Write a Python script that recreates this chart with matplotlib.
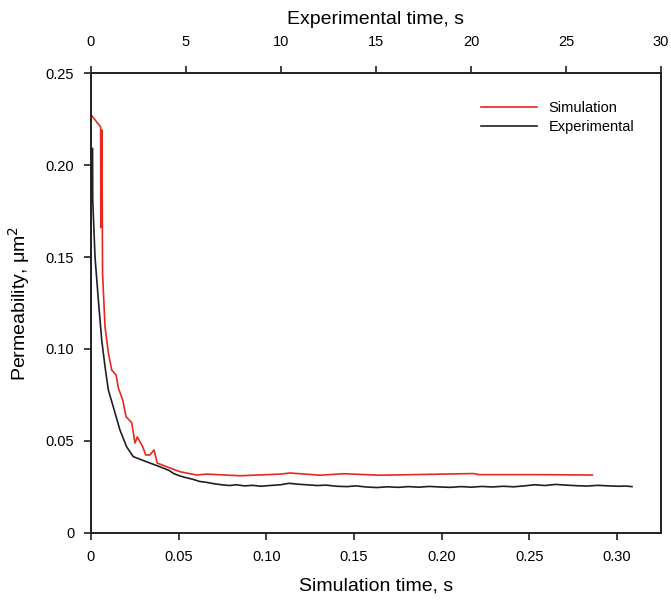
import matplotlib.pyplot as plt

plt.rcParams['font.family'] = ['Liberation Sans', 'DejaVu Sans']

# Simulation curve (red)
sim_t = [0.0006, 0.0055, 0.0056, 0.0062, 0.0066, 0.0080, 0.0099, 0.0118, 0.0143,
         0.0156, 0.0181, 0.0200, 0.0232, 0.0251, 0.0264, 0.0295, 0.0312, 0.0336,
         0.0359, 0.0378, 0.0432, 0.0507, 0.0603, 0.066, 0.085, 0.108, 0.1135,
         0.1306, 0.1439, 0.1648, 0.1893, 0.218, 0.2215, 0.256, 0.2859]
sim_k = [0.2266, 0.2207, 0.166, 0.219, 0.141, 0.112, 0.098, 0.0886, 0.0859,
         0.0788, 0.0723, 0.0632, 0.0600, 0.0489, 0.0522, 0.0469, 0.0424, 0.0424,
         0.0451, 0.0380, 0.0360, 0.0333, 0.0315, 0.0320, 0.0311, 0.0320, 0.0326,
         0.0314, 0.0322, 0.0314, 0.0318, 0.0323, 0.0317, 0.0317, 0.0315]

# Experimental curve (black)
exp_t = [0.0009, 0.0010, 0.0023, 0.0042, 0.0061, 0.0080, 0.0099, 0.0127, 0.0165,
         0.0203, 0.0241, 0.0317, 0.0393, 0.0445, 0.0470, 0.0507, 0.0545, 0.0580,
         0.0620, 0.0660, 0.0700, 0.0745, 0.0790, 0.0830, 0.0875, 0.0920, 0.0970,
         0.1020, 0.1080, 0.1130, 0.1180, 0.1230, 0.1290, 0.1340, 0.1400, 0.1460,
         0.1510, 0.1570, 0.1630, 0.1690, 0.1750, 0.1810, 0.1870, 0.1930, 0.1990,
         0.2050, 0.2110, 0.2170, 0.2230, 0.2290, 0.2350, 0.2410, 0.2470, 0.2530,
         0.2590, 0.2650, 0.2710, 0.2770, 0.2830, 0.2890, 0.2950, 0.3010, 0.3050,
         0.3085]
exp_k = [0.209, 0.181, 0.150, 0.1266, 0.105, 0.0904, 0.0777, 0.0686, 0.0560,
         0.0469, 0.0415, 0.0387, 0.0360, 0.0340, 0.0324, 0.0310, 0.0300, 0.0292,
         0.0280, 0.0275, 0.0268, 0.0262, 0.0258, 0.0262, 0.0256, 0.0259, 0.0254,
         0.0258, 0.0262, 0.0270, 0.0265, 0.0262, 0.0258, 0.0260, 0.0254, 0.0252,
         0.0256, 0.0250, 0.0247, 0.0251, 0.0248, 0.0252, 0.0249, 0.0253, 0.0250,
         0.0248, 0.0252, 0.0249, 0.0253, 0.0250, 0.0254, 0.0251, 0.0256, 0.0262,
         0.0258, 0.0264, 0.0260, 0.0257, 0.0255, 0.0259, 0.0256, 0.0254, 0.0255,
         0.0252]

sim_ticks = [0, 0.05, 0.10, 0.15, 0.20, 0.25, 0.30]
sim_ticklabels = ['0', '0.05', '0.10', '0.15', '0.20', '0.25', '0.30']
exp_ticks = [0, 5, 10, 15, 20, 25, 30]
k_ticks = [0, 0.05, 0.10, 0.15, 0.20, 0.25]
k_ticklabels = ['0', '0.05', '0.10', '0.15', '0.20', '0.25']

spine_col = '#231f20'

fig = plt.figure(figsize=(6.71, 6.0), dpi=100)
ax = fig.add_axes([0.1356, 0.1117, 0.8494, 0.7666])

ax.plot(sim_t, sim_k, color='#e8281e', lw=1.2, label='Simulation')
ax.plot(exp_t, exp_k, color='#231f20', lw=1.2, label='Experimental')

ax.set_xlim(0, 0.325)
ax.set_ylim(0, 0.25)
ax.set_xticks(sim_ticks)
ax.set_xticklabels(sim_ticklabels)
ax.set_yticks(k_ticks)
ax.set_yticklabels(k_ticklabels)
ax.tick_params(direction='out', length=5, width=1.2, color=spine_col,
               labelsize=10.5, pad=7)
ax.set_xlabel('Simulation time, s', fontsize=14, labelpad=10)
ax.set_ylabel('Permeability, μm$^2$', fontsize=14, labelpad=10)

# top axis: experimental time
ax2 = ax.twiny()
ax2.set_xlim(0, 30)
ax2.set_xticks(exp_ticks)
ax2.tick_params(direction='out', length=5, width=1.2, color=spine_col,
                labelsize=10.5, pad=12)
ax2.set_xlabel('Experimental time, s', fontsize=14, labelpad=8)

for a in (ax, ax2):
    for s in a.spines.values():
        s.set_color(spine_col)
        s.set_linewidth(1.2)

ax.legend(loc='upper right', bbox_to_anchor=(0.976, 0.967), frameon=False,
          fontsize=10.5, handlelength=3.8, labelspacing=0.3)

plt.savefig('out.png', dpi=100)
